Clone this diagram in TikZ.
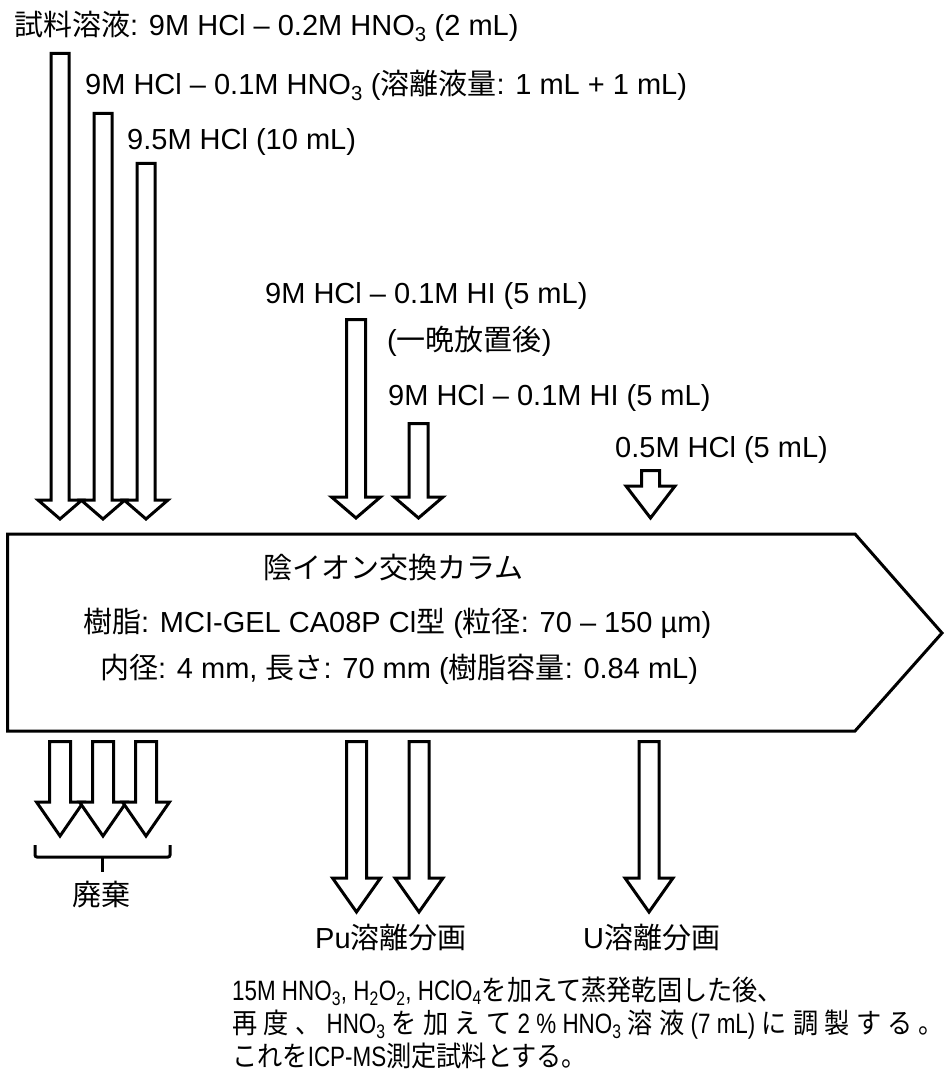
\documentclass[tikz,border=0pt]{standalone}
\usepackage{fontspec}
\setmainfont{Liberation Sans}
\newfontfamily\jpfont{Noto Sans CJK JP}
\newfontfamily\narrowfont[FakeStretch=0.8]{Liberation Sans}
\newfontfamily\narrowjp[FakeStretch=0.9]{Noto Sans CJK JP}
\newcommand\J[1]{{\jpfont #1}}
\newcommand\NJ[1]{{\narrowjp #1}}
\newcommand\gp{\hspace{0pt plus 1fil}}
% block arrow: cx, ytop, ybase, ytip, shaft half width, head half width
\newcommand\barrow[6]{%
  \draw[blockarrow] (#1-#5,#2) -- (#1+#5,#2) -- (#1+#5,#3) -- (#1+#6,#3) -- (#1,#4)
    -- (#1-#6,#3) -- (#1-#5,#3) -- cycle;}
\tikzset{
  blockarrow/.style={line width=3pt, fill=white, line join=miter},
  lbl/.style={anchor=base west, inner sep=0pt, font=\fontsize{29}{34}\selectfont},
  para/.style={anchor=base west, inner sep=0pt, font=\fontsize{28}{32}\narrowfont},
}
\begin{document}
\begin{tikzpicture}[x=1pt,y=-1pt]
\useasboundingbox (0,0) rectangle (949,1075);

% column
\draw[line width=3pt, line join=miter] (7.5,534) -- (855,534) -- (942,633) -- (855,731) -- (7.5,731) -- cycle;

% top-left arrows
\barrow{60}{53.5}{500}{519}{9}{22}
\barrow{103}{113.5}{500}{519}{9}{22}
\barrow{146}{163.5}{500}{519}{9}{22}

% middle arrows (in)
\barrow{356}{319.5}{497}{518}{9.5}{24.5}
\barrow{418.5}{423.5}{497}{518}{9.5}{24.5}
\barrow{650.5}{470.5}{486}{518}{9}{24.5}

% bottom-left arrows (waste)
\barrow{60}{741.5}{802}{836}{10.5}{23.5}
\barrow{103}{741.5}{802}{836}{10.5}{23.5}
\barrow{146}{741.5}{802}{836}{10.5}{23.5}

% bottom middle arrows
\barrow{356.5}{741.5}{878}{912}{10}{24}
\barrow{419}{741.5}{878}{912}{10}{24}
\barrow{649}{741.5}{878}{912}{10}{24}

% bracket
\draw[line width=3pt, rounded corners=2pt] (35,845) -- (35,857) -- (170,857) -- (170,845);
\draw[line width=3pt] (102,857) -- (102,872);

% labels
\node[lbl] (s1) at (14,36) {\J{試料溶液}: 9M HCl – 0.2M HNO\textsubscript{3} (2 mL)};
\node[lbl] (s2) at (85,95) {9M HCl – 0.1M HNO\textsubscript{3} (\J{溶離液量}: 1 mL + 1 mL)};
\node[lbl] (s3) at (127,150) {9.5M HCl (10 mL)};
\node[lbl] (s4) at (265,303) {9M HCl – 0.1M HI (5 mL)};
\node[lbl] (s5) at (387,350) {(\J{一晩放置後})};
\node[lbl] (s6) at (388,405) {9M HCl – 0.1M HI (5 mL)};
\node[lbl] (s7) at (615,457) {0.5M HCl (5 mL)};

\node[lbl] (c1) at (263,578) {\J{陰イオン交換カラム}};
\node[lbl] (c2) at (83,632) {\J{樹脂}: MCI-GEL CA08P Cl\J{型} (\J{粒径}: 70 – 150 µm)};
\node[lbl] (c3) at (100,678) {\J{内径}: 4 mm, \J{長さ}: 70 mm (\J{樹脂容量}: 0.84 mL)};

\node[lbl, anchor=base] (w) at (101,905) {\J{廃棄}};
\node[lbl] (pu) at (315,948) {Pu\J{溶離分画}};
\node[lbl] (u) at (583,948) {U\J{溶離分画}};

\node[para] (p1) at (232,1000) {15M HNO\textsubscript{3}, H\textsubscript{2}O\textsubscript{2}, HClO\textsubscript{4}\NJ{を加えて蒸発乾固した後、}};
\node[para] (p2) at (232,1033) {\makebox[712pt][s]{\NJ{再}\gp\NJ{度}\gp\NJ{、}\gp HNO\textsubscript{3}\gp\NJ{を}\gp\NJ{加}\gp\NJ{え}\gp\NJ{て}\gp 2 \% HNO\textsubscript{3}\gp\NJ{溶}\gp\NJ{液}\gp(7 mL)\gp\NJ{に}\gp\NJ{調}\gp\NJ{製}\gp\NJ{す}\gp\NJ{る}\gp\NJ{。}}};
\node[para] (p3) at (232,1066) {\NJ{これを}ICP-MS\NJ{測定試料とする。}};
\end{tikzpicture}
\end{document}
